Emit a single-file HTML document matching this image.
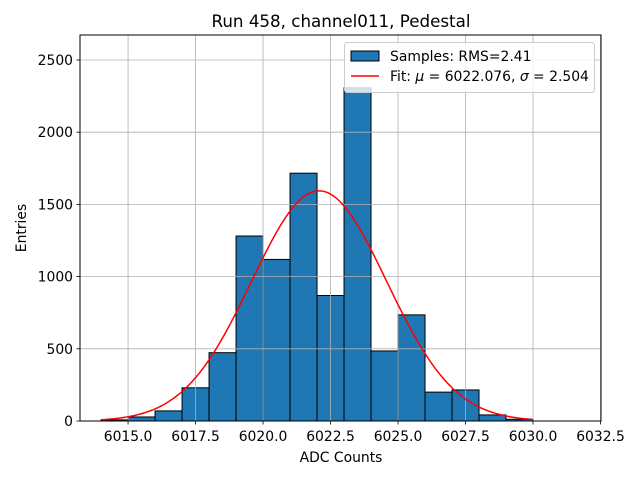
<!DOCTYPE html>
<html><head><meta charset="utf-8"><style>
body{margin:0;background:#fff}
svg{display:block;font-family:"DejaVu Sans","Liberation Sans",sans-serif}
</style></head><body>
<svg id="c" width="640" height="480" viewBox="0 0 640 480">
<rect width="640" height="480" fill="#fff"/>
<text x="341" y="27" font-size="16.7" text-anchor="middle">Run 458, channel011, Pedestal</text>
<g id="bars"></g>
<g id="grid"></g>
<path id="fit" fill="none" stroke="#ff0000" stroke-width="1.5"/>
<rect x="80" y="35" width="521" height="386" fill="none" stroke="#000" stroke-width="1"/>
<g id="xt"></g>
<g id="yt"></g>
<text x="341" y="462" font-size="13.9" text-anchor="middle">ADC Counts</text>
<text x="26" y="228" font-size="13.9" text-anchor="middle" transform="rotate(-90 26 228)">Entries</text>
<g>
<rect x="344.5" y="42.5" width="250" height="50" rx="3" fill="#fff" fill-opacity="0.8" stroke="#ccc"/>
<rect x="351" y="51" width="28" height="10" fill="#1f77b4" stroke="#000"/>
<text x="390" y="61" font-size="13.9">Samples: RMS=2.41</text>
<line x1="351" y1="76" x2="379" y2="76" stroke="#ff0000" stroke-width="1.5"/>
<text x="390" y="81" font-size="13.9">Fit: <tspan font-style="italic">μ</tspan> = 6022.076, <tspan font-style="italic">σ</tspan> = 2.504</text>
</g>
</svg>
<script>
const binEdgesStart = 6014;
const binWidth = 1;
const counts = [8, 28, 70, 230, 473, 1281, 1119, 1716, 869, 2307, 485, 735, 200, 215, 42, 12];
const xTicks = [6015, 6017.5, 6020, 6022.5, 6025, 6027.5, 6030, 6032.5];
const xTickLabels = ["6015.0","6017.5","6020.0","6022.5","6025.0","6027.5","6030.0","6032.5"];
const yTicks = [0, 500, 1000, 1500, 2000, 2500];
const fitMu = 6022.076, fitSigma = 2.504, fitAmp = 1594;
const fitRange = [6014, 6030];

const NS = "http://www.w3.org/2000/svg";
const X0 = 80, X1 = 601, Y0 = 421, Y1 = 35;
const xmin = 6013.22, xmax = 6032.5 + (601 - 600.5) / 27.0;
const ymin = 0, ymax = 2673;
const sx = v => X0 + (v - xmin) / (xmax - xmin) * (X1 - X0);
const sy = v => Y0 - (v - ymin) / (ymax - ymin) * (Y0 - Y1);
function mk(tag, attrs, parent) { const e = document.createElementNS(NS, tag); for (const k in attrs) e.setAttribute(k, attrs[k]); parent.appendChild(e); return e; }

const bars = document.getElementById('bars');
counts.forEach((c, i) => {
  const a = binEdgesStart + i * binWidth, b = a + binWidth;
  const r = mk('rect', {x: sx(a), y: sy(c), width: sx(b) - sx(a), height: sy(0) - sy(c), fill: '#1f77b4', stroke: '#000', 'stroke-width': 1}, bars);
  
  
});
const grid = document.getElementById('grid');
const xt = document.getElementById('xt');
xTicks.forEach((t, i) => {
  const x = sx(t);
  const g = mk('line', {x1: x, x2: x, y1: Y1, y2: Y0, stroke: '#b0b0b0', 'stroke-width': 0.8}, grid);
  
  
  mk('line', {x1: x, x2: x, y1: Y0, y2: Y0 + 3.5, stroke: '#000', 'stroke-width': 0.8}, xt);
  const tx = mk('text', {x: x, y: Y0 + 20, 'font-size': 13.9, 'text-anchor': 'middle'}, xt);
  tx.textContent = xTickLabels[i];
  
  
});
const yt = document.getElementById('yt');
yTicks.forEach(t => {
  const y = sy(t);
  const g = mk('line', {x1: X0, x2: X1, y1: y, y2: y, stroke: '#b0b0b0', 'stroke-width': 0.8}, grid);
  
  
  mk('line', {x1: X0 - 3.5, x2: X0, y1: y, y2: y, stroke: '#000', 'stroke-width': 0.8}, yt);
  const tx = mk('text', {x: X0 - 7, y: y + 5, 'font-size': 13.9, 'text-anchor': 'end'}, yt);
  tx.textContent = String(t);
  
  
});
let d = '';
for (let k = 0; k <= 200; k++) {
  const v = fitRange[0] + (fitRange[1] - fitRange[0]) * k / 200;
  const f = fitAmp * Math.exp(-0.5 * Math.pow((v - fitMu) / fitSigma, 2));
  d += (k ? 'L' : 'M') + sx(v).toFixed(2) + ',' + sy(f).toFixed(2);
}
document.getElementById('fit').setAttribute('d', d);
</script>
</body></html>
